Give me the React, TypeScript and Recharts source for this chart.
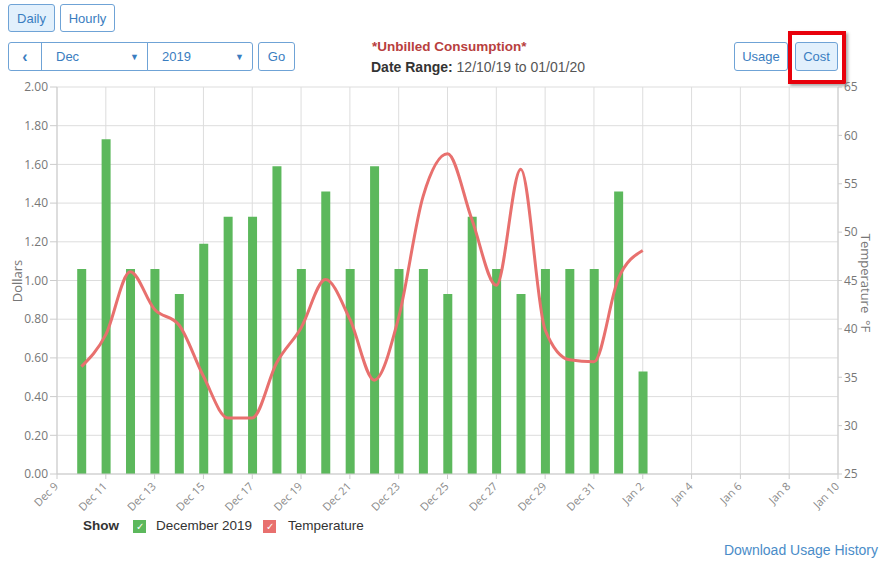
import React from "react";
import {
  ComposedChart,
  Bar,
  Line,
  XAxis,
  YAxis,
  CartesianGrid,
} from "recharts";

// Day offsets counted from Dec 9, 2019
const dayOffsets = [1, 2, 3, 4, 5, 6, 7, 8, 9, 10, 11, 12, 13, 14, 15, 16, 17, 18, 19, 20, 21, 22, 23, 24];
const dayLabels = [
  "Dec 10", "Dec 11", "Dec 12", "Dec 13", "Dec 14", "Dec 15", "Dec 16", "Dec 17",
  "Dec 18", "Dec 19", "Dec 20", "Dec 21", "Dec 22", "Dec 23", "Dec 24", "Dec 25",
  "Dec 26", "Dec 27", "Dec 28", "Dec 29", "Dec 30", "Dec 31", "Jan 1", "Jan 2",
];
const costDollars = [
  1.06, 1.73, 1.06, 1.06, 0.93, 1.19, 1.33, 1.33, 1.59, 1.06, 1.46, 1.06,
  1.59, 1.06, 1.06, 0.93, 1.33, 1.06, 0.93, 1.06, 1.06, 1.06, 1.46, 0.53,
];
const temperatureF = [
  36.1, 39.4, 45.9, 42.0, 40.4, 35.1, 30.8, 30.8, 36.5, 40.1, 45.1, 41.0,
  34.7, 41.2, 53.7, 58.1, 51.3, 44.5, 56.5, 39.9, 36.8, 36.6, 45.2, 48.1,
];

const xTicks = [0, 2, 4, 6, 8, 10, 12, 14, 16, 18, 20, 22, 24, 26, 28, 30, 32];
const xTickLabels = [
  "Dec 9", "Dec 11", "Dec 13", "Dec 15", "Dec 17", "Dec 19", "Dec 21", "Dec 23",
  "Dec 25", "Dec 27", "Dec 29", "Dec 31", "Jan 2", "Jan 4", "Jan 6", "Jan 8", "Jan 10",
];
const dollarTicks = [0, 0.2, 0.4, 0.6, 0.8, 1.0, 1.2, 1.4, 1.6, 1.8, 2.0];
const tempTicks = [25, 30, 35, 40, 45, 50, 55, 60, 65];

const data = dayOffsets.map((d, i) => ({
  day: d,
  label: dayLabels[i],
  cost: costDollars[i],
  temp: temperatureF[i],
}));

const AXIS_FONT = "'Open Sans', 'DejaVu Sans', sans-serif";
const UI_FONT = "'Liberation Sans', Arial, sans-serif";
const BLUE = "#3a7dc0";

const XTick = (props: any) => {
  const { x, y, payload } = props;
  const idx = xTicks.indexOf(payload.value);
  const text = idx >= 0 ? xTickLabels[idx] : "";
  return (
    <text
      x={x + 2}
      y={y + 6}
      transform={`rotate(-45, ${x + 2}, ${y + 6})`}
      textAnchor="end"
      fontSize={11}
      fill="#8a8a8a"
      fontFamily={AXIS_FONT}
    >
      {text}
    </text>
  );
};

const btn = (active: boolean): React.CSSProperties => ({
  position: "absolute",
  boxSizing: "border-box",
  border: "1px solid #6fa3d6",
  borderRadius: 3,
  background: active ? "#e2f0fc" : "#ffffff",
  color: BLUE,
  fontSize: 13,
  fontFamily: UI_FONT,
  display: "flex",
  alignItems: "center",
  justifyContent: "center",
});

const legendText: React.CSSProperties = {
  position: "absolute",
  top: 518,
  fontSize: 13.5,
  color: "#333",
  whiteSpace: "nowrap",
};

const checkBox = (color: string, left: number): React.CSSProperties => ({
  position: "absolute",
  left,
  top: 520,
  width: 13,
  height: 13,
  background: color,
  color: "#fff",
  fontSize: 10,
  display: "flex",
  alignItems: "center",
  justifyContent: "center",
});

export default function App() {
  return (
    <div style={{ position: "relative", width: 879, height: 562, background: "#fff", overflow: "hidden", fontFamily: UI_FONT }}>
      <style>{`body{margin:0;}`}</style>

      {/* top buttons */}
      <div style={{ ...btn(true), left: 8, top: 4, width: 47, height: 28 }}>Daily</div>
      <div style={{ ...btn(false), left: 60, top: 4, width: 55, height: 28 }}>Hourly</div>

      {/* date selector group */}
      <div style={{ ...btn(false), left: 8, top: 42, width: 34, height: 29, borderRadius: "3px 0 0 3px", fontWeight: "bold", fontSize: 16 }}>‹</div>
      <div style={{ ...btn(false), left: 41, top: 42, width: 107, height: 29, borderRadius: 0, justifyContent: "space-between", padding: "0 8px 0 14px" }}>
        <span>Dec</span>
        <span style={{ fontSize: 9 }}>▼</span>
      </div>
      <div style={{ ...btn(false), left: 147, top: 42, width: 106, height: 29, borderRadius: "0 3px 3px 0", justifyContent: "space-between", padding: "0 8px 0 14px" }}>
        <span>2019</span>
        <span style={{ fontSize: 9 }}>▼</span>
      </div>
      <div style={{ ...btn(false), left: 258, top: 42, width: 37, height: 29 }}>Go</div>

      {/* title */}
      <div style={{ position: "absolute", left: 372, top: 39, color: "#b8403e", fontWeight: "bold", fontSize: 13.5, whiteSpace: "nowrap" }}>
        *Unbilled Consumption*
      </div>
      <div style={{ position: "absolute", left: 371, top: 59, fontSize: 14, color: "#555", whiteSpace: "nowrap" }}>
        <span style={{ fontWeight: "bold", color: "#333" }}>Date Range:</span> 12/10/19 to 01/01/20
      </div>

      {/* usage / cost */}
      <div style={{ ...btn(false), left: 734, top: 42, width: 54, height: 29 }}>Usage</div>
      <div style={{ ...btn(true), left: 795, top: 42, width: 43, height: 29 }}>Cost</div>
      <div style={{ position: "absolute", left: 788, top: 31, width: 58, height: 53, boxSizing: "border-box", border: "4px solid #e8000b", boxShadow: "2px 2px 3px rgba(0,0,0,0.35)" }} />

      {/* chart */}
      <div style={{ position: "absolute", left: 0, top: 70 }}>
        <ComposedChart
          width={879}
          height={444}
          data={data}
          margin={{ top: 17, right: 0, bottom: 0, left: 0 }}
          style={{ fontFamily: AXIS_FONT }}
        >
          <CartesianGrid yAxisId="left" stroke="#dddddd" />
          <XAxis
            dataKey="day"
            type="number"
            domain={[0, 32]}
            ticks={xTicks}
            interval={0}
            height={40}
            tick={<XTick />}
            tickSize={5}
            stroke="#cccccc"
            allowDataOverflow
          />
          <YAxis
            yAxisId="left"
            domain={[0, 2]}
            ticks={dollarTicks}
            interval={0}
            width={57}
            tickFormatter={(v: number) => v.toFixed(2)}
            tick={{ fontSize: 12, fill: "#777" }}
            tickSize={7}
            stroke="#cccccc"
          />
          <YAxis
            yAxisId="right"
            orientation="right"
            domain={[25, 65]}
            ticks={tempTicks}
            interval={0}
            width={41}
            tick={{ fontSize: 12, fill: "#777", textAnchor: "start" }}
            tickSize={4}
            stroke="#cccccc"
          />
          <Bar yAxisId="left" dataKey="cost" fill="#5cb85c" barSize={9} isAnimationActive={false} />
          <Line
            yAxisId="right"
            dataKey="temp"
            type="monotone"
            stroke="#e8706e"
            strokeWidth={3}
            dot={false}
            activeDot={false}
            isAnimationActive={false}
          />
        </ComposedChart>
      </div>

      {/* axis titles */}
      <div style={{ position: "absolute", left: 17, top: 281, transform: "translate(-50%, -50%) rotate(-90deg)", fontSize: 13, color: "#777", fontFamily: AXIS_FONT, whiteSpace: "nowrap" }}>
        Dollars
      </div>
      <div style={{ position: "absolute", left: 866, top: 283, transform: "translate(-50%, -50%) rotate(90deg)", fontSize: 13, color: "#777", fontFamily: AXIS_FONT, whiteSpace: "nowrap" }}>
        Temperature &nbsp;°F
      </div>

      {/* legend */}
      <div style={{ ...legendText, left: 83, fontWeight: "bold" }}>Show</div>
      <div style={checkBox("#5cb85c", 133)}>✓</div>
      <div style={{ ...legendText, left: 156 }}>December 2019</div>
      <div style={checkBox("#e8706e", 263)}>✓</div>
      <div style={{ ...legendText, left: 288 }}>Temperature</div>

      {/* download link */}
      <div style={{ position: "absolute", right: 1, top: 542, fontSize: 14, color: "#4a8cc8" }}>Download Usage History</div>
    </div>
  );
}
